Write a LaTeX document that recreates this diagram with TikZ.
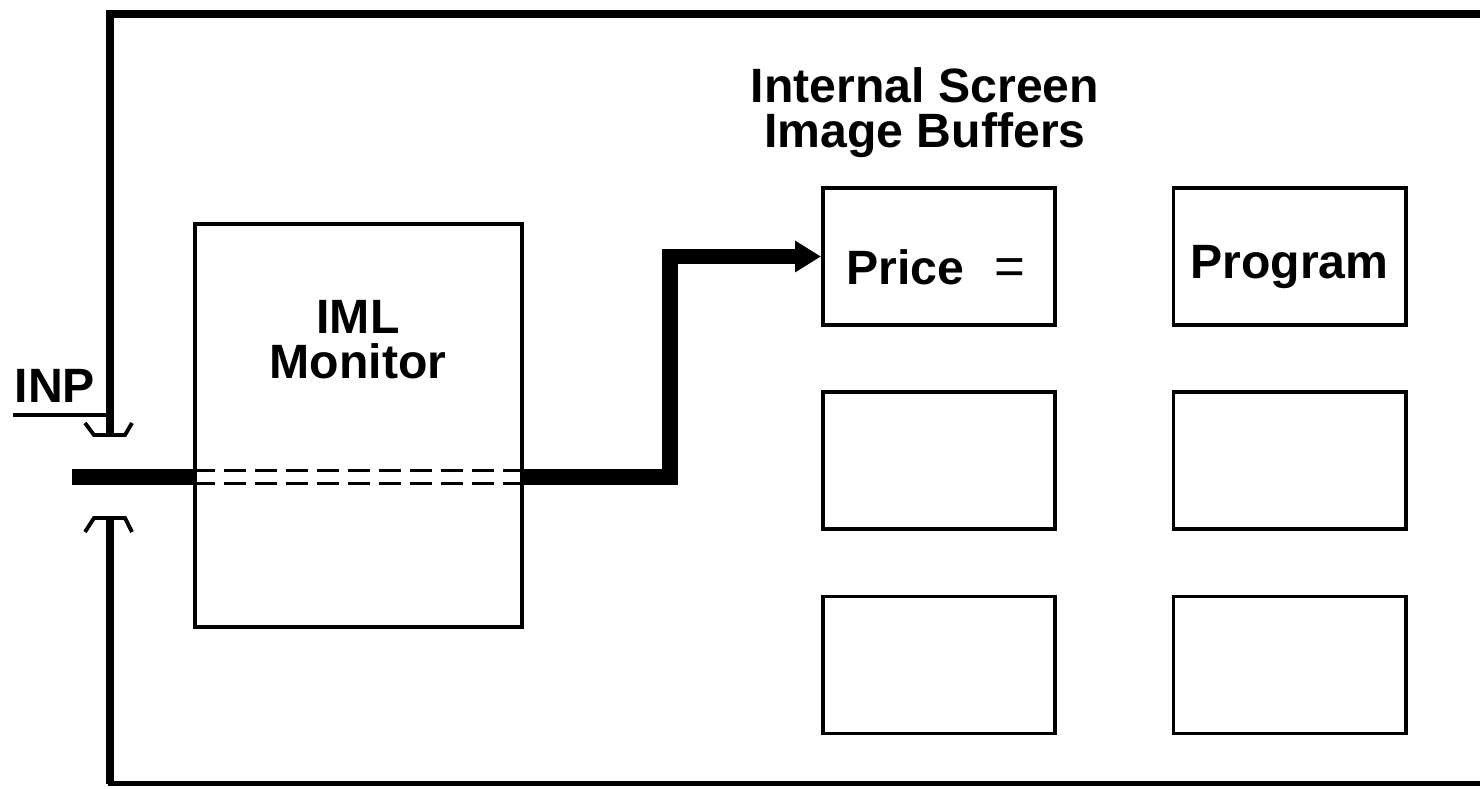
\documentclass[tikz,border=0pt]{standalone}
\usepackage{fontspec}
\setmainfont{Liberation Sans}
\usetikzlibrary{arrows.meta, positioning, calc}
\tikzset{
  >=Stealth,
  frameline/.style={line width=2pt, black, line join=miter},
  socketline/.style={line width=1.1pt, black, line join=miter},
  inpline/.style={line width=0.9pt, black},
  busline/.style={line width=4.5pt, black, line join=miter},
  busarrow/.style={busline, -{Triangle[length=0.26cm, width=0.3cm]}},
  bus_dashed/.style={line width=1.1pt, black, dash pattern=on 0.22cm off 0.09cm},
  monbox/.style={draw, line width=1pt, minimum width=3.27cm, minimum height=4.03cm},
  bufbox/.style={draw, line width=1.1pt, minimum width=2.32cm, minimum height=1.37cm},
  boldtext/.style={font=\fontsize{13.7}{12.8}\selectfont\bfseries, align=center, inner sep=0pt}
}

\begin{document}
\begin{tikzpicture}[x=0.01cm, y=-0.01cm]
    \useasboundingbox (0,0) rectangle (1480,788);

    % monitor and screen buffers
    \node (monitor) [monbox] at (358.5,425.5) {};
    \node (monlabel) [boldtext] at (358,340) {IML\\Monitor};
    \foreach \r/\yy in {1/256.5, 2/460.5, 3/665} {
      \foreach \c/\xx in {1/939, 2/1289.5} {
        \node (buf-\r-\c) [bufbox] at (\xx,\yy) {};
      }
    }
    \node (buftitle) [boldtext] at (925,113) {Internal Screen\\Image Buffers};
    \node (price) [boldtext] at ([xshift=-1pt, yshift=-3pt]buf-1-1) {Price\hspace{0.3cm}{\fontsize{15}{15}\selectfont\mdseries =}};
    \node (program) [boldtext] at ([yshift=-3pt]buf-1-2) {Program};

    % INP socket and outer loop
    \coordinate (sockin) at (110,435);
    \coordinate (sockout) at (110,518);
    \coordinate (inpend) at (13,415);
    \node (inp) [boldtext, anchor=base west] at (14,402) {INP};
    \draw[socketline] ($(sockin)+(-25,-12)$) -- ($(sockin)+(-16,0)$) -- ($(sockin)+(15,0)$) -- ($(sockin)+(22,-12)$);
    \draw[socketline] ($(sockout)+(-25,14)$) -- ($(sockout)+(-16,0)$) -- ($(sockout)+(15,0)$) -- ($(sockout)+(22,14)$);
    \draw[frameline] (sockin) -- (110,14) -- (1490,14);
    \draw[frameline] (sockout) -- (110,783.5);
    \draw[frameline, line width=1.3pt] (108,783.5) -- (1490,783.5);
    \draw[inpline] (inpend) -- (inpend -| sockin);

    % bus through the monitor
    \coordinate (busin) at (72,477);
    \coordinate (busturn) at (670,477);
    \draw[busline] (busin) -- (monitor.west |- busin);
    \draw[bus_dashed] ($(monitor.west |- busin)+(0,-6.5)$) -- ($(monitor.east |- busin)+(0,-6.5)$);
    \draw[bus_dashed] ($(monitor.west |- busin)+(0,6.5)$) -- ($(monitor.east |- busin)+(0,6.5)$);
    \draw[busarrow] (monitor.east |- busin) -- (busturn) |- (buf-1-1.west);
\end{tikzpicture}
\end{document}
